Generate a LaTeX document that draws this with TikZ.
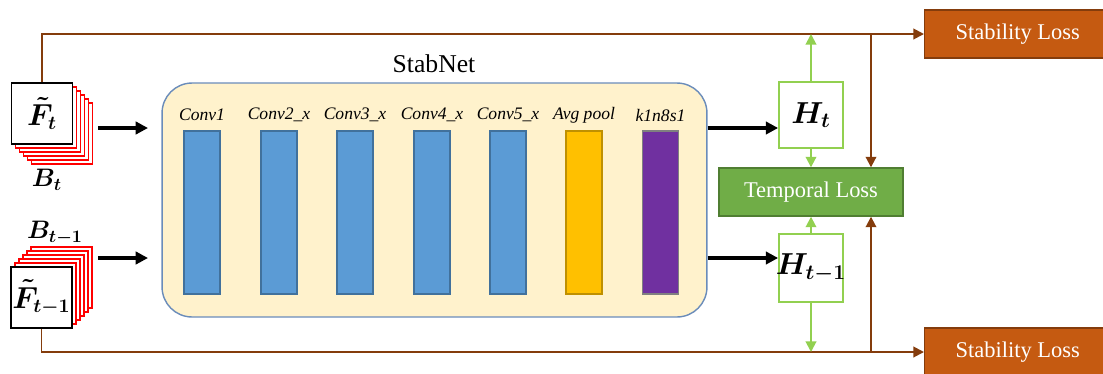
\documentclass[tikz,border=0pt]{standalone}
\usepackage{amsmath}
\usepackage{fontspec}
\setmainfont{Liberation Serif}
\usetikzlibrary{calc, positioning, arrows.meta}

\definecolor{lossbrown}{HTML}{843C0C}
\definecolor{lossorange}{HTML}{C55A11}
\definecolor{tgreen}{HTML}{70AD47}
\definecolor{tgreendark}{HTML}{507E32}
\definecolor{hgreen}{HTML}{92D050}
\definecolor{netfill}{HTML}{FFF2CC}
\definecolor{netedge}{HTML}{6A8CBA}
\definecolor{convblue}{HTML}{5B9BD5}
\definecolor{convedge}{HTML}{41719C}
\definecolor{poolyellow}{HTML}{FFC000}
\definecolor{pooledge}{HTML}{BF9000}
\definecolor{fcpurple}{HTML}{7030A0}
\definecolor{fcedge}{HTML}{808080}

\begin{document}
\begin{tikzpicture}[x=0.02cm, y=-0.02cm,
  stackframe/.style={draw=red, fill=white, line width=0.8pt, minimum width=1.22cm, minimum height=1.22cm, inner sep=0pt},
  imgbox/.style={draw=black, fill=white, line width=0.8pt, minimum width=1.22cm, minimum height=1.22cm, inner sep=0pt, font=\fontsize{16}{18}\selectfont},
  layer/.style={minimum width=0.72cm, minimum height=3.26cm, line width=0.8pt, inner sep=0pt},
  hbox/.style={draw=hgreen, fill=white, line width=1pt, minimum width=1.28cm, inner sep=0pt, font=\fontsize{17}{19}\selectfont},
  loss/.style={text=white, line width=0.8pt, inner sep=0pt, font=\fontsize{12.8}{15}\selectfont},
  brownline/.style={draw=lossbrown, line width=1.1pt, -{Triangle[length=6pt, width=6pt]}},
  greenline/.style={draw=hgreen, line width=1.1pt, -{Triangle[length=6pt, width=6pt]}},
  fatarrow/.style={draw=black, line width=1.8pt, -{Triangle[length=7pt, width=7pt]}}
]
\useasboundingbox (0,0) rectangle (1103,373);

% Input frames with their stacks of boxes
\foreach \k in {5,...,1} {
  \node[stackframe] at ({42+4*\k},{113.5+4*\k}) {};
}
\node[imgbox] (ft) at (42,113.5) {$\boldsymbol{\tilde{F}_{t}}$};
\node[font=\fontsize{14}{16}\selectfont] (bt) at (47,180) {$\boldsymbol{B_{t}}$};

\foreach \k in {5,...,1} {
  \node[stackframe] at ({41.5+4*\k},{297.5-4*\k}) {};
}
\node[imgbox] (ftm) at (41.5,297.5) {$\boldsymbol{\tilde{F}_{t-1}}$};
\node[font=\fontsize{14}{16}\selectfont] (btm) at (55,233) {$\boldsymbol{B_{t-1}}$};

% StabNet block
\node[draw=netedge, fill=netfill, line width=0.8pt, rounded corners=0.6cm,
      minimum width=10.9cm, minimum height=4.68cm] (stabnet) at (434.5,200) {};
\node[font=\fontsize{14.6}{17}\selectfont] (title) at (434,64) {StabNet};

\foreach \x/\lab/\fc/\dc [count=\i] in {202/Conv1/convblue/convedge, 279/Conv2\_x/convblue/convedge,
    355/Conv3\_x/convblue/convedge, 432/Conv4\_x/convblue/convedge, 508/Conv5\_x/convblue/convedge,
    584/Avg pool/poolyellow/pooledge, 660.5/k1n8s1/fcpurple/fcedge} {
  \node[layer, fill=\fc, draw=\dc] (bar\i) at (\x,212.5) {};
  \node[font=\fontsize{10}{12}\selectfont\itshape] (lbl\i) at (\x,115) {\lab};
}

% Feature boxes and losses
\node[hbox, minimum height=1.32cm] (ht) at (811,115) {$\boldsymbol{H_{t}}$};
\node[hbox, minimum height=1.36cm] (htm) at (811,268) {\makebox[1.22cm][c]{$\boldsymbol{H_{t-1}}$}};
\node[loss, fill=tgreen, draw=tgreendark, minimum width=3.68cm, minimum height=0.96cm] (tloss) at (811,192) {Temporal Loss};
\node[loss, fill=lossorange, draw=lossbrown, minimum width=3.72cm, minimum height=0.96cm, anchor=west] (sloss1) at (924,34) {Stability Loss};
\node[loss, fill=lossorange, draw=lossbrown, minimum width=3.72cm, minimum height=0.96cm, anchor=west] (sloss2) at (924,352) {Stability Loss};

\coordinate (jtop) at (871,34);
\coordinate (jbot) at (871,352);
\coordinate (in1) at (98,128);
\coordinate (in1e) at (148,128);
\coordinate (in2) at (98,258);
\coordinate (in2e) at (148,258);

% Brown connectors
\draw[brownline] (ft.north) |- (sloss1.west);
\draw[brownline] (ftm.south) |- (sloss2.west);
\draw[brownline] (jtop) -- (jtop |- tloss.north);
\draw[brownline] (jbot) -- (jbot |- tloss.south);

% Green connectors
\draw[greenline] (ht.north) -- (ht.north |- jtop);
\draw[greenline] (ht.south) -- (tloss.north);
\draw[greenline] (htm.north) -- (tloss.south);
\draw[greenline] (htm.south) -- (htm.south |- jbot);

% Black arrows
\draw[fatarrow] (in1) -- (in1e);
\draw[fatarrow] (in2) -- (in2e);
\draw[fatarrow] (stabnet.east |- in1) -- (in1 -| ht.west);
\draw[fatarrow] (stabnet.east |- in2) -- (in2 -| htm.west);

\end{tikzpicture}
\end{document}
